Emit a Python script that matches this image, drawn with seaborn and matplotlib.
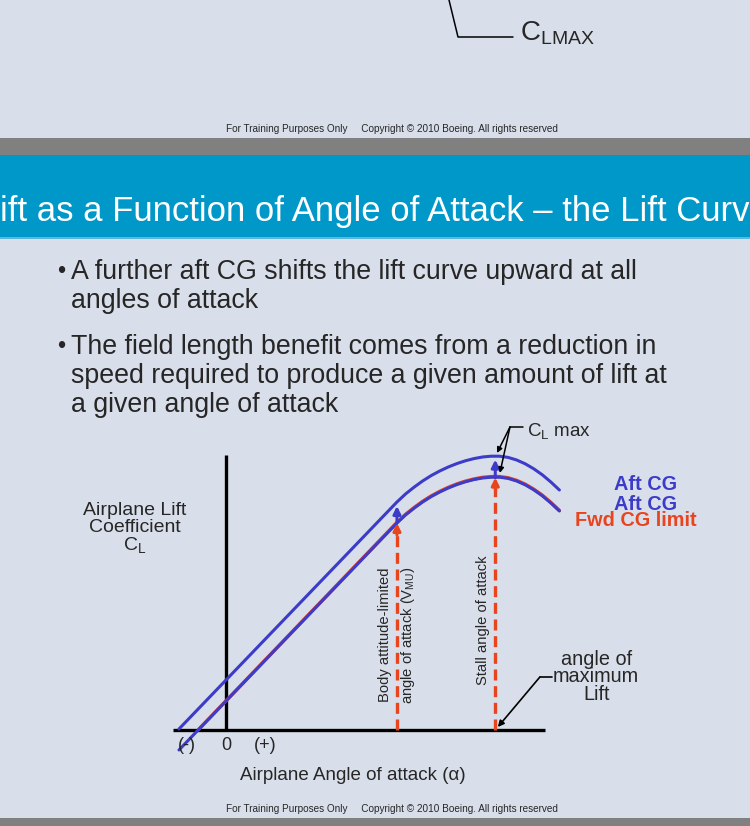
import matplotlib
matplotlib.use('Agg')
import numpy as np
import pandas as pd
import matplotlib.pyplot as plt
import seaborn as sns

# Style first, then the font list (set_style resets font.family)
sns.set_style('white')
plt.rcParams['font.family'] = ['Liberation Sans', 'DejaVu Sans']

# --- Data ---
# angle of attack (deg) and lift coefficient for the three curves
alpha_aft = [-2.75, 10.0, 10.5, 11.0, 11.5, 12.0, 12.5, 13.0, 13.5, 14.0, 14.5,
             15.0, 15.5, 16.0, 16.5, 17.0, 17.5, 18.0, 18.5, 19.0, 19.5]
cl_aft_upper = [0.005, 1.140, 1.180, 1.214, 1.245, 1.272, 1.295, 1.315, 1.332, 1.346, 1.357,
                1.365, 1.369, 1.369, 1.363, 1.350, 1.331, 1.306, 1.276, 1.240, 1.200]
cl_aft_lower = [-0.100, 1.035, 1.075, 1.109, 1.140, 1.167, 1.190, 1.210, 1.227, 1.241, 1.252,
                1.260, 1.264, 1.264, 1.258, 1.245, 1.226, 1.201, 1.171, 1.135, 1.095]
alpha_fwd = [-1.6, 10.0, 10.5, 11.0, 11.5, 12.0, 12.5, 13.0, 13.5, 14.0, 14.5,
             15.0, 15.5, 16.0, 16.5, 17.0, 17.5, 18.0, 18.5, 19.0, 19.5]
cl_fwd = [0.003, 1.038, 1.078, 1.112, 1.143, 1.170, 1.193, 1.213, 1.230, 1.244, 1.255,
          1.263, 1.267, 1.267, 1.261, 1.248, 1.229, 1.204, 1.174, 1.138, 1.098]

# marked angles: body attitude limit and stall
alpha_body = 10.0
alpha_stall = 15.75
cl_body_fwd, cl_body_aft = 1.035, 1.12
cl_stall_fwd, cl_stall_aft = 1.262, 1.352

tick_pos = [-2.3, 0.0, 2.3]
tick_labels = ['(-)', '0', '(+)']

bullets = [
    ['A further aft CG shifts the lift curve upward at all',
     'angles of attack'],
    ['The field length benefit comes from a reduction in',
     'speed required to produce a given amount of lift at',
     'a given angle of attack'],
]

# --- Colours ---
bg_col = '#d9dfea'
band_blue = '#0097c9'
band_grey = '#808080'
blue = '#3c3cc8'
red = '#e8441e'

W, H = 750, 826
fig = plt.figure(figsize=(W / 100, H / 100), dpi=100, facecolor=bg_col)

# background axes in pixel coordinates for the slide furniture
bg = fig.add_axes([0, 0, 1, 1])
bg.set_xlim(0, W)
bg.set_ylim(H, 0)
bg.axis('off')
bg.set_facecolor(bg_col)
bg.axhspan(138, 155, color=band_grey, lw=0)
bg.axhspan(155, 237, color=band_blue, lw=0)
bg.axhspan(237, 239, color='#5fb6dc', lw=0)
bg.axhspan(818, 826, color=band_grey, lw=0)

# remains of the previous slide at the top
bg.plot([449, 458, 513], [0, 37, 37], color='black', lw=1.1)
bg.text(520, 33, r'C$_\mathregular{LMAX}$', fontsize=20, va='center', ha='left')

footer = 'For Training Purposes Only     Copyright \u00a9 2010 Boeing. All rights reserved'
bg.text(392, 129, footer, fontsize=7.2, ha='center', va='center')
bg.text(392, 809, footer, fontsize=7.2, ha='center', va='center')

# title (cut off at both edges, as on the slide)
bg.text(0, 212, 'ift as a Function of Angle of Attack \u2013 the Lift Curv',
        fontsize=25, color='white', ha='left', va='center')

# bullets
y = 272
for block in bullets:
    bg.text(57, y, '\u2022', fontsize=17, ha='left', va='center')
    for line in block:
        bg.text(71, y, line, fontsize=19.3, ha='left', va='center')
        y += 29
    y += 17

# --- Chart axes ---
ax = fig.add_axes([150 / W, 66 / H, 460 / W, 340 / H])
ax.set_xlim(-4.444, 22.46)
ax.set_ylim(-0.15, 1.55)
ax.axis('off')

# axes lines
ax.plot([-3.1, 18.65], [0, 0], color='black', lw=2.4, solid_capstyle='butt')
ax.plot([0, 0], [0, 1.375], color='black', lw=2.4, solid_capstyle='butt')

# curves
sns.lineplot(x=alpha_fwd, y=cl_fwd, ax=ax, color=red, lw=2.5, sort=False, estimator=None)
sns.lineplot(x=alpha_aft, y=cl_aft_lower, ax=ax, color=blue, lw=2.2, sort=False, estimator=None)
sns.lineplot(x=alpha_aft, y=cl_aft_upper, ax=ax, color=blue, lw=2.2, sort=False, estimator=None)

# dashed red lines with arrow heads
dash = (0, (3.3, 1.7))
for a, c in [(alpha_body, cl_body_fwd), (alpha_stall, cl_stall_fwd)]:
    ax.plot([a, a], [0, c - 0.05], color=red, lw=2.4, ls=dash)
    ax.annotate('', xy=(a, c), xytext=(a, c - 0.06),
                arrowprops=dict(arrowstyle='-|>', color=red, lw=2.2,
                                mutation_scale=11, shrinkA=0, shrinkB=0))
# blue arrows for the aft shift
for a, c0, c1 in [(alpha_body, cl_body_fwd, cl_body_aft), (alpha_stall, cl_stall_fwd, cl_stall_aft)]:
    ax.annotate('', xy=(a, c1), xytext=(a, c0),
                arrowprops=dict(arrowstyle='-|>', color=blue, lw=2.2,
                                mutation_scale=11, shrinkA=0, shrinkB=0))

# vertical labels on the dashed lines
ax.text(9.3, 0.475, 'Body attitude-limited', rotation=90, fontsize=10.6,
        ha='center', va='center')
ax.text(10.64, 0.475, r'angle of attack (V$_\mathregular{MU}$)', rotation=90, fontsize=10.6,
        ha='center', va='center')
ax.text(15.03, 0.55, 'Stall angle of attack', rotation=90, fontsize=10.6,
        ha='center', va='center')

# C_L max callout
ax.plot([16.61, 17.37], [1.515, 1.515], color='black', lw=1.1)
for tip in [(15.85, 1.385), (16.02, 1.285)]:
    ax.annotate('', xy=tip, xytext=(16.61, 1.515),
                arrowprops=dict(arrowstyle='-|>', color='black', lw=1.1,
                                mutation_scale=8, shrinkA=0, shrinkB=0))
ax.text(17.6, 1.49, r'C$_\mathregular{L}$ max', fontsize=13.5, ha='left', va='center')

# angle of maximum lift callout
ax.plot([19.06, 18.36], [0.265, 0.265], color='black', lw=1.2)
ax.annotate('', xy=(15.9, 0.015), xytext=(18.36, 0.265),
            arrowprops=dict(arrowstyle='-|>', color='black', lw=1.2,
                            mutation_scale=9, shrinkA=0, shrinkB=0))
ax.text(21.65, 0.265, 'angle of\nmaximum\nLift', fontsize=14.3, ha='center', va='center',
        linespacing=0.92)

# tick labels along alpha axis
for p, lab in zip(tick_pos, tick_labels):
    ax.text(p, -0.08, lab, fontsize=13, ha='center', va='center')

# legend-like labels (they overlap on the original slide too)
bg.text(646, 484, 'Aft CG', fontsize=14.3, color=blue, fontweight='bold', ha='center', va='center')
bg.text(646, 505, 'Aft CG', fontsize=14.3, color=blue, fontweight='bold', ha='center', va='center')
bg.text(636, 520, 'Fwd CG limit', fontsize=14.3, color=red, fontweight='bold', ha='center', va='center')

# axis titles
bg.text(135, 529, 'Airplane Lift\nCoefficient\n' + r'C$_\mathregular{L}$', fontsize=14,
        ha='center', va='center', linespacing=1.02)
bg.text(353, 776, 'Airplane Angle of attack (\u03b1)', fontsize=13.5, ha='center', va='center')

fig.savefig('out.png', dpi=100, facecolor=bg_col)
